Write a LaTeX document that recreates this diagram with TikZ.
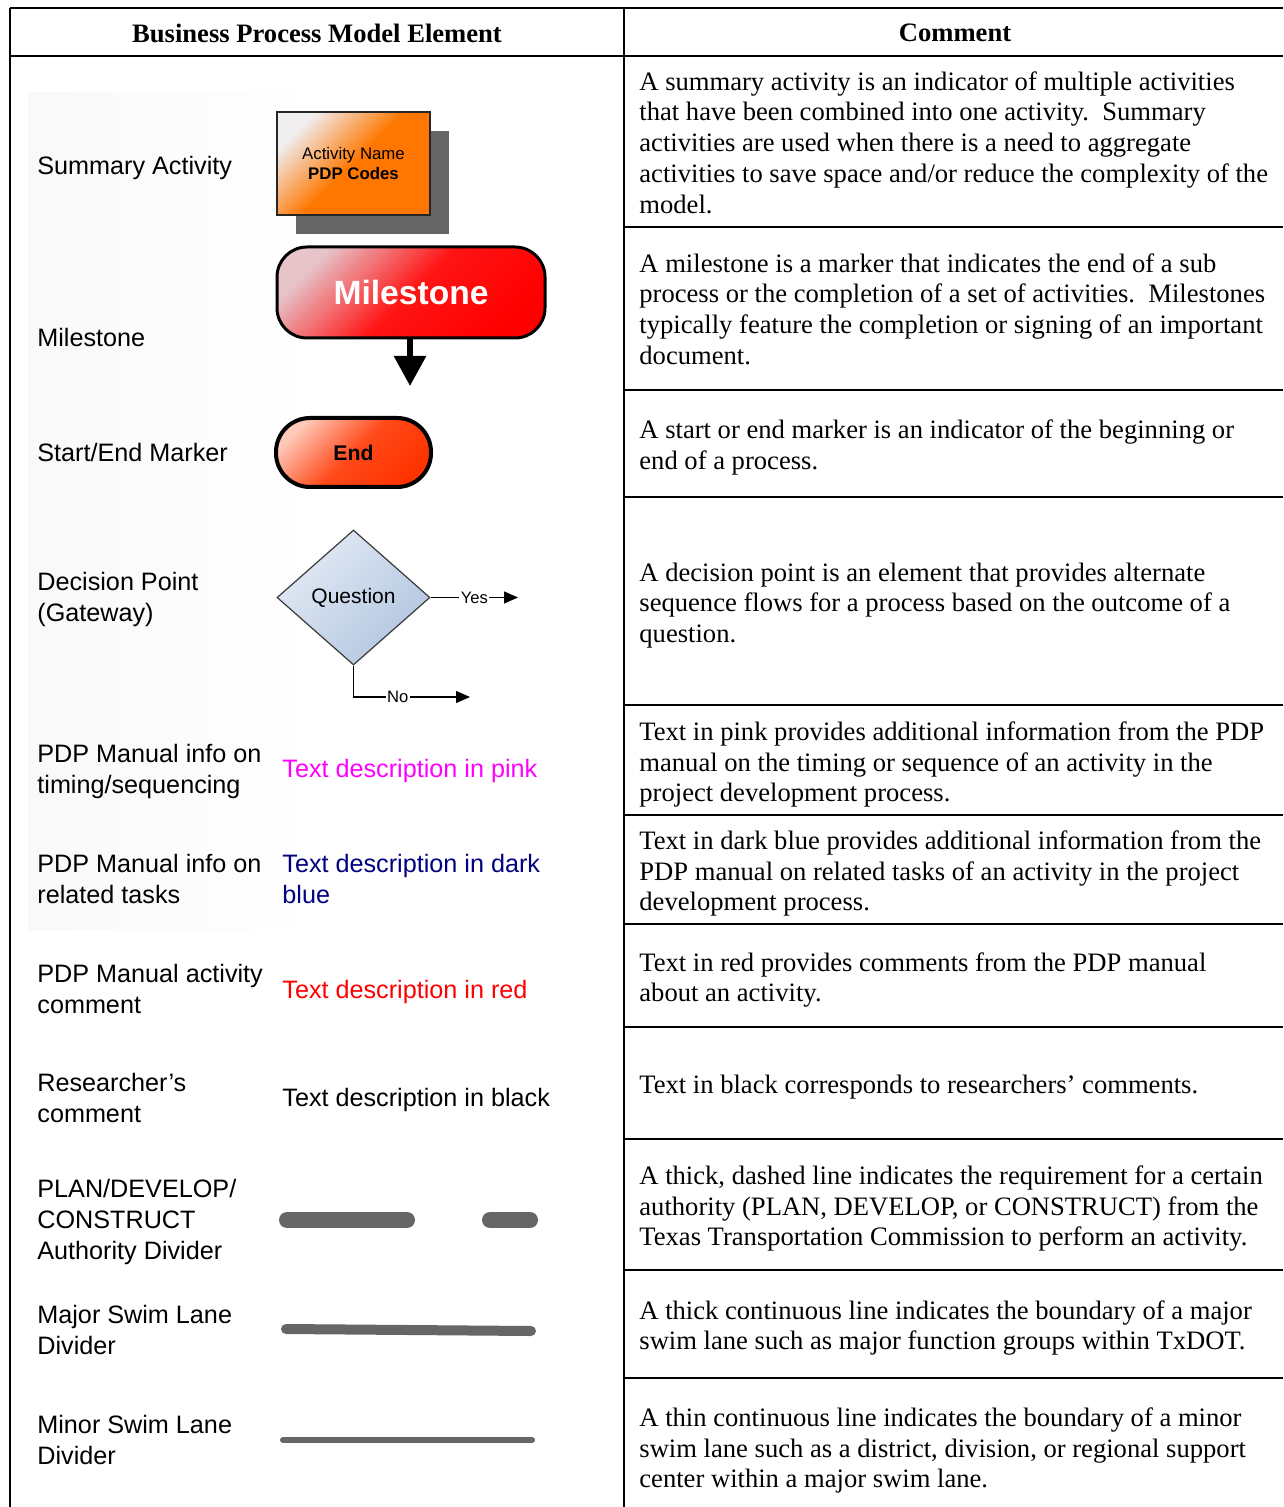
\documentclass[tikz,border=0pt]{standalone}
\usepackage{fontspec}
\setmainfont{Liberation Serif}
\newfontfamily\arialfont{Liberation Sans}
\usetikzlibrary{arrows.meta,shapes.geometric,shadows}

\definecolor{shadowgray}{HTML}{666666}
\definecolor{divgray}{HTML}{666666}
\definecolor{orangeA}{HTML}{F0EEF0}
\definecolor{orangeB}{HTML}{FF7700}
\definecolor{msA}{HTML}{E6C4C9}
\definecolor{msB}{HTML}{FF1414}
\definecolor{msC}{HTML}{FF0000}
\definecolor{endA}{HTML}{FFC8B8}
\definecolor{endB}{HTML}{FF4A1A}
\definecolor{endC}{HTML}{FF3300}
\definecolor{qA}{HTML}{E2EAF5}
\definecolor{qB}{HTML}{B2C5DF}
\definecolor{qedge}{HTML}{3A3A3A}
\definecolor{pinktext}{HTML}{FF00FF}
\definecolor{bluetext}{HTML}{000080}
\definecolor{redtext}{HTML}{FF0000}

\begin{document}
\begin{tikzpicture}[x=0.5pt,y=-0.5pt,
  rule/.style={line width=1pt,black},
  hdr/.style={inner sep=0pt,font=\bfseries\fontsize{13.3}{16}\selectfont},
  cmt/.style={anchor=west,align=left,inner sep=0pt,font=\fontsize{13.3}{15.35}\selectfont},
  lbl/.style={anchor=west,align=left,inner sep=0pt,font=\arialfont\fontsize{12.6}{15.5}\selectfont},
  sample/.style={anchor=west,align=left,inner sep=0pt,font=\arialfont\fontsize{12.6}{15.5}\selectfont},
  divider/.style={divgray,line cap=round},
  flow/.style={line width=0.6pt,black,-{Triangle[width=6pt,length=7pt]}},
  flowlabel/.style={fill=white,inner sep=0.8pt,font=\arialfont\fontsize{8.3}{9}\selectfont}
]
\useasboundingbox (0,0) rectangle (1283,1507);
\fill[white] (0,0) rectangle (1283,1507);

% faint backdrop behind the element column
\shade[left color=black!2.5,right color=white] (28,93) rectangle (320,930);

% table rules
\draw[rule] (10,8) -- (1283,8);
\draw[rule] (10,56) -- (1283,56);
\draw[rule] (10,8) -- (10,1507);
\draw[rule] (624,8) -- (624,1507);
\foreach \yy in {227,390,497,705,815,924,1027,1139,1270,1378}
  \draw[rule] (624,\yy) -- (1283,\yy);

% headers
\node[hdr] (h1) at (317,33) {Business Process Model Element};
\node[hdr] (h2) at (955,33) {Comment};

% element names
\node[lbl] (l1)  at (37,168)  {Summary Activity};
\node[lbl] (l2)  at (37,337)  {Milestone};
\node[lbl] (l3)  at (37,452)  {Start/End Marker};
\node[lbl] (l4)  at (37,599)  {Decision Point\\(Gateway)};
\node[lbl] (l5)  at (37,771)  {PDP Manual info on\\timing/sequencing};
\node[lbl] (l6)  at (37,879)  {PDP Manual info on\\related tasks};
\node[lbl] (l7)  at (37,989)  {PDP Manual activity\\comment};
\node[lbl] (l8)  at (37,1098) {Researcher’s\\comment};
\node[lbl] (l9)  at (37,1222) {PLAN/DEVELOP/\\CONSTRUCT\\Authority Divider};
\node[lbl] (l10) at (37,1330) {Major Swim Lane\\Divider};
\node[lbl] (l11) at (37,1440) {Minor Swim Lane\\Divider};

% summary activity box with its shadow
\node[draw=black!85,line width=0.6pt,minimum width=76.5pt,minimum height=51.5pt,inner sep=0pt,
      top color=orangeA,bottom color=orangeB,middle color=orangeB,shading angle=45,
      drop shadow={shadow xshift=9.5pt,shadow yshift=-9.5pt,fill=shadowgray,opacity=1},
      align=center,font=\arialfont\fontsize{8.4}{10}\selectfont]
  (sa) at (353.5,163.5) {Activity Name\\\textbf{PDP Codes}};

% milestone
\node[draw=black,line width=1.5pt,rounded corners=15pt,minimum width=134pt,minimum height=45.5pt,
      inner sep=0pt,top color=msA,bottom color=msC,middle color=msB,shading angle=45,
      text=white,font=\arialfont\bfseries\fontsize{16.8}{18}\selectfont]
  (ms) at (411,292.5) {Milestone};
\coordinate (msend) at (410,386);
\draw[line width=3pt,-{Triangle[width=15.5pt,length=15pt]}] (ms.south -| msend) -- (msend);

% start/end marker
\node[draw=black,line width=2pt,rounded corners=17pt,minimum width=77.5pt,minimum height=34.5pt,
      inner sep=0pt,top color=endA,bottom color=endC,middle color=endB,shading angle=45,
      font=\arialfont\bfseries\fontsize{10.6}{12}\selectfont]
  (se) at (353.5,452.5) {End};

% decision point
\node[diamond,draw=qedge,line width=0.6pt,minimum width=76.5pt,minimum height=67.5pt,inner sep=0pt,
      top color=qA,bottom color=qB,shading angle=45,
      font=\arialfont\fontsize{10.5}{12}\selectfont]
  (dq) at (353.5,597.5) {Question};
\coordinate (yesend) at (518,597.5);
\coordinate (noend) at (470,697);
\draw[flow] (dq.east) -- node[flowlabel,pos=0.5] {Yes} (yesend);
\draw[flow] (dq.south) |- node[flowlabel,pos=0.69] {No} (noend);

% coloured sample texts
\node[sample,text=pinktext] (t1) at (282,771) {Text description in pink};
\node[sample,text=bluetext] (t2) at (282,879) {Text description in dark\\blue};
\node[sample,text=redtext]  (t3) at (282,992) {Text description in red};
\node[sample]               (t4) at (282,1100) {Text description in black};

% divider samples
\draw[divider,line width=8pt] (287,1220) -- (407,1220);
\draw[divider,line width=8pt] (490,1220) -- (530,1220);
\draw[divider,line width=5pt] (286,1329) -- (531,1331);
\draw[divider,line width=3pt] (283,1440) -- (532,1440);

% comments
\node[cmt] (c1) at (639,142.5) {A summary activity is an indicator of multiple activities\\that have been combined into one activity.\ \ Summary\\activities are used when there is a need to aggregate\\activities to save space and/or reduce the complexity of the\\model.};
\node[cmt] (c2) at (639,309) {A milestone is a marker that indicates the end of a sub\\process or the completion of a set of activities.\ \ Milestones\\typically feature the completion or signing of an important\\document.};
\node[cmt] (c3) at (639,447.5) {A start or end marker is an indicator of the beginning or\\end of a process.};
\node[cmt] (c4) at (639,605.5) {A decision point is an element that provides alternate\\sequence flows for a process based on the outcome of a\\question.};
\node[cmt] (c5) at (639,764.5) {Text in pink provides additional information from the PDP\\manual on the timing or sequence of an activity in the\\project development process.};
\node[cmt] (c6) at (639,873.5) {Text in dark blue provides additional information from the\\PDP manual on related tasks of an activity in the project\\development process.};
\node[cmt] (c7) at (639,980) {Text in red provides comments from the PDP manual\\about an activity.};
\node[cmt] (c8) at (639,1087) {Text in black corresponds to researchers’ comments.};
\node[cmt] (c9) at (639,1208.5) {A thick, dashed line indicates the requirement for a certain\\authority (PLAN, DEVELOP, or CONSTRUCT) from the\\Texas Transportation Commission to perform an activity.};
\node[cmt] (c10) at (639,1328) {A thick continuous line indicates the boundary of a major\\swim lane such as major function groups within TxDOT.};
\node[cmt] (c11) at (639,1450.5) {A thin continuous line indicates the boundary of a minor\\swim lane such as a district, division, or regional support\\center within a major swim lane.};
\end{tikzpicture}
\end{document}
